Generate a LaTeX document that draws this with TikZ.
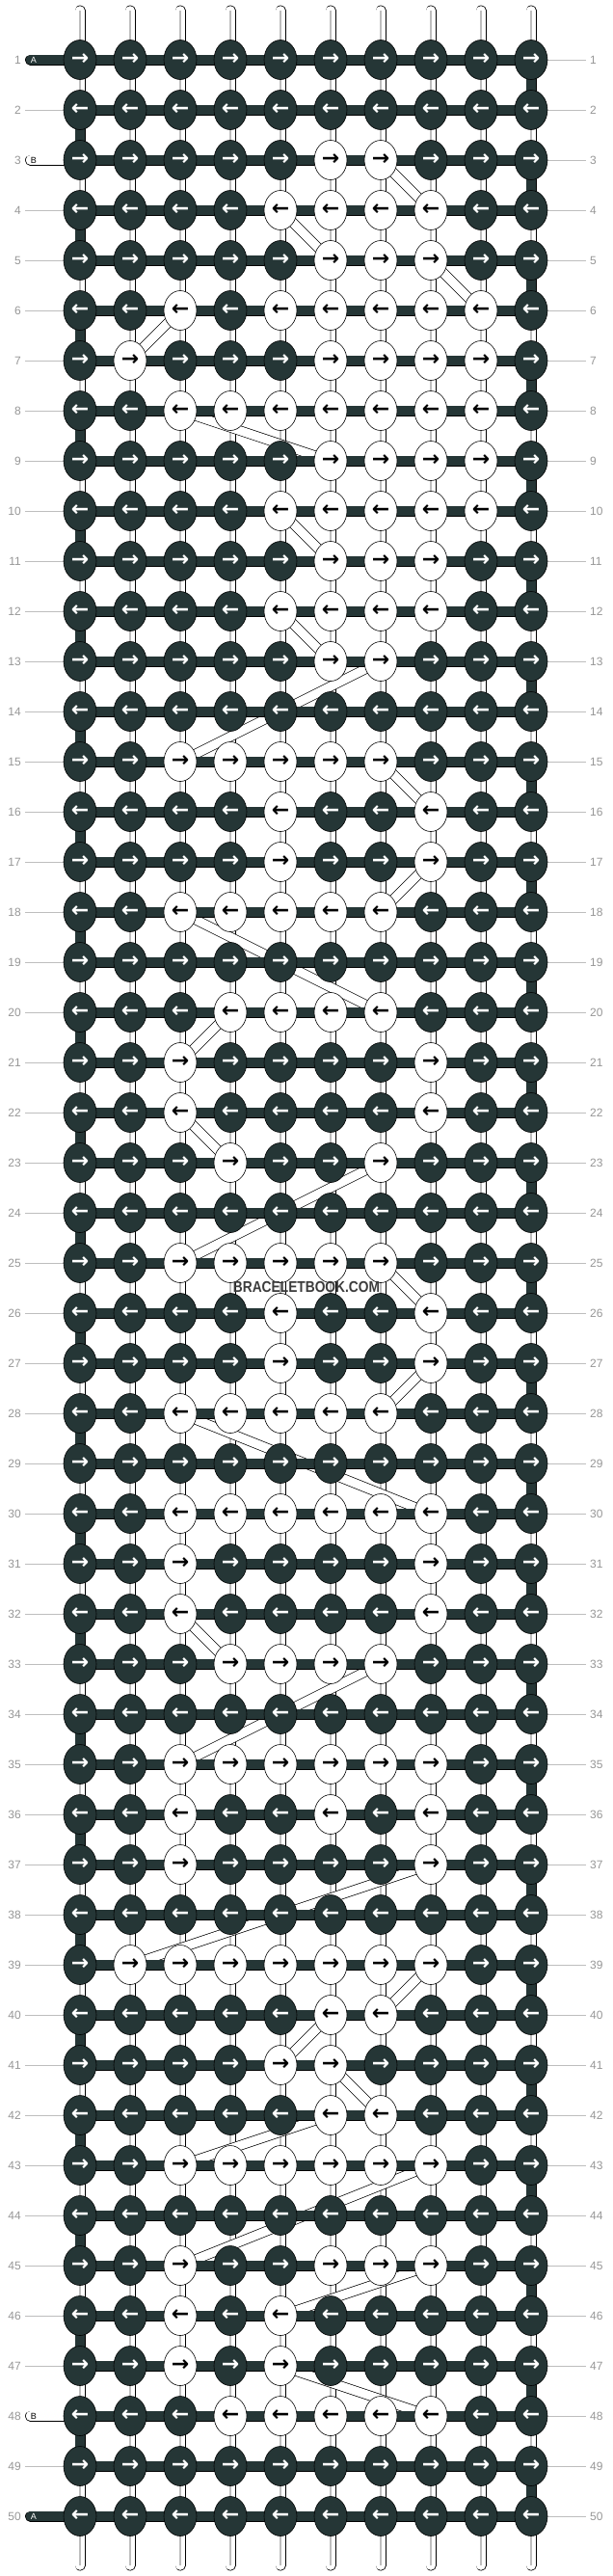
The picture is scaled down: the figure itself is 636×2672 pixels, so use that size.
\documentclass[tikz,border=0pt]{standalone}
\usepackage{fontspec}
\setmainfont{Liberation Sans}
\newfontfamily\arrowfont{DejaVu Sans}
\usetikzlibrary{shapes.geometric}

\definecolor{knotdark}{RGB}{37,54,54}
\definecolor{guidegray}{RGB}{190,190,190}
\definecolor{numgray}{RGB}{150,150,150}
\definecolor{markgray}{RGB}{60,60,60}

\pgfdeclarelayer{strands}
\pgfdeclarelayer{floats}
\pgfdeclarelayer{bars}
\pgfsetlayers{strands,floats,bars,main}

% knots in the light colour (row-column)
\newcommand{\lightknots}{%
  3-6,3-7,4-5,4-6,4-7,4-8,5-6,5-7,5-8,%
  6-3,6-5,6-6,6-7,6-8,6-9,7-2,7-6,7-7,7-8,7-9,%
  8-3,8-4,8-5,8-6,8-7,8-8,8-9,9-6,9-7,9-8,9-9,%
  10-5,10-6,10-7,10-8,10-9,11-6,11-7,11-8,%
  12-5,12-6,12-7,12-8,13-6,13-7,%
  15-3,15-4,15-5,15-6,15-7,16-5,16-8,17-5,17-8,%
  18-3,18-4,18-5,18-6,18-7,20-4,20-5,20-6,20-7,%
  21-3,21-8,22-3,22-8,23-4,23-7,%
  25-3,25-4,25-5,25-6,25-7,26-5,26-8,27-5,27-8,%
  28-3,28-4,28-5,28-6,28-7,%
  30-3,30-4,30-5,30-6,30-7,30-8,31-3,31-8,32-3,32-8,%
  33-4,33-5,33-6,33-7,%
  35-3,35-4,35-5,35-6,35-7,35-8,36-3,36-6,36-8,37-3,37-8,%
  39-2,39-3,39-4,39-5,39-6,39-7,39-8,40-6,40-7,41-5,41-6,42-6,42-7,%
  43-3,43-4,43-5,43-6,43-7,43-8,45-3,45-6,45-7,45-8,%
  46-3,46-5,47-3,47-5,48-4,48-5,48-6,48-7,48-8}

% light strand floating behind the knots (from/to)
\newcommand{\floatpairs}{%
  3-7/4-8,4-5/5-6,5-8/6-9,6-3/7-2,8-3/9-6,10-5/11-6,12-5/13-6,%
  13-7/15-3,15-7/16-8,17-8/18-7,18-3/20-7,20-4/21-3,22-3/23-4,%
  23-7/25-3,25-7/26-8,27-8/28-7,28-3/30-8,32-3/33-4,33-7/35-3,%
  37-8/39-2,39-8/40-7,40-6/41-5,41-6/42-7,42-6/43-3,43-8/45-3,%
  45-8/46-5,47-5/48-8}

\begin{document}
\begin{tikzpicture}[x=1pt,y=-1pt,
  knot/.style={ellipse,draw=black,line width=0.6pt,minimum width=34pt,
    minimum height=41pt,inner sep=0pt,
    font=\arrowfont\bfseries\fontsize{22}{22}\selectfont},
  strand/.style={draw=black,line width=0.7pt,double=white,
    double distance=9.6pt,line cap=round},
  strandcore/.style={draw=guidegray,line width=1.2pt},
  knotbar/.style={draw=black,line width=0.7pt,double=knotdark,
    double distance=9.6pt,line cap=round},
  floatband/.style={draw=black,line width=0.7pt,double=white,
    double distance=9pt},
  guideline/.style={draw=guidegray,line width=0.8pt},
  rownum/.style={text=numgray,font=\fontsize{12}{12}\selectfont,
    inner xsep=4pt,inner ysep=1pt},
  pilltag/.style={font=\fontsize{9}{9}\selectfont,inner sep=0pt}]

\useasboundingbox (0,0) rectangle (636,2672);

\foreach \p in \lightknots {\expandafter\gdef\csname lk\p\endcsname{}}

% Knots
\foreach \y in {1,...,50} {
  \foreach \x in {1,...,10} {
    \ifcsname lk\y-\x\endcsname \def\kfill{white}\def\ktext{black}%
    \else \def\kfill{knotdark}\def\ktext{white}\fi
    \ifodd\y \def\karrow{→}\else \def\karrow{←}\fi
    \node[knot,fill=\kfill,text=\ktext] (k-\y-\x) at ({31+52*\x},{10+52*\y}) {\karrow};
  }
}

% Vertical strands and row numbers
\begin{pgfonlayer}{strands}
\foreach \x in {1,...,10} {
  \coordinate (top-\x) at ({31+52*\x},11);
  \coordinate (bot-\x) at ({31+52*\x},2661);
  \draw[strand] (top-\x) -- (bot-\x);
  \draw[strandcore] (top-\x) -- (bot-\x);
}
\foreach \y in {1,...,50} {
  \node[rownum,anchor=east] (ln-\y) at (26,{10+52*\y}) {\y};
  \node[rownum,anchor=west] (rn-\y) at (608,{10+52*\y}) {\y};
  \draw[guideline] (k-\y-10) -- (rn-\y);
}
\foreach \y in {2,4,5,...,47,49} \draw[guideline] (ln-\y) -- (k-\y-1);
\foreach \y in {3,48} {
  \coordinate (pill-\y) at (31.5,{10+52*\y});
  \draw[strand] (pill-\y) -- (k-\y-1.center);
}
\end{pgfonlayer}

% Floats
\begin{pgfonlayer}{floats}
\foreach \a/\b in \floatpairs \draw[floatband] (k-\a.center) -- (k-\b.center);
\end{pgfonlayer}

% Knotting strand
\begin{pgfonlayer}{bars}
\foreach \y in {2,3,...,49} \draw[knotbar] (k-\y-1.center) -- (k-\y-10.center);
\foreach \y in {1,50} {
  \coordinate (pill-\y) at (31.5,{10+52*\y});
  \draw[knotbar] (pill-\y) -- (k-\y-10.center);
}
\foreach \y [evaluate=\y as \yn using int(\y+1)] in {1,3,...,49}
  \draw[knotbar] (k-\y-10.center) -- (k-\yn-10.center);
\foreach \y [evaluate=\y as \yn using int(\y+1)] in {2,4,...,48}
  \draw[knotbar] (k-\y-1.center) -- (k-\yn-1.center);
\end{pgfonlayer}

% Pill letters
\node[pilltag,text=white] (tag-1) at (35,62) {A};
\node[pilltag] (tag-3) at (35,166) {B};
\node[pilltag] (tag-48) at (35,2506) {B};
\node[pilltag,text=white] (tag-50) at (35,2610) {A};

\node[font=\bfseries\fontsize{16}{16}\selectfont,text=markgray] (mark) at (318,1335)
  {\scalebox{0.86}[1]{BRACELETBOOK.COM}};

\end{tikzpicture}
\end{document}
